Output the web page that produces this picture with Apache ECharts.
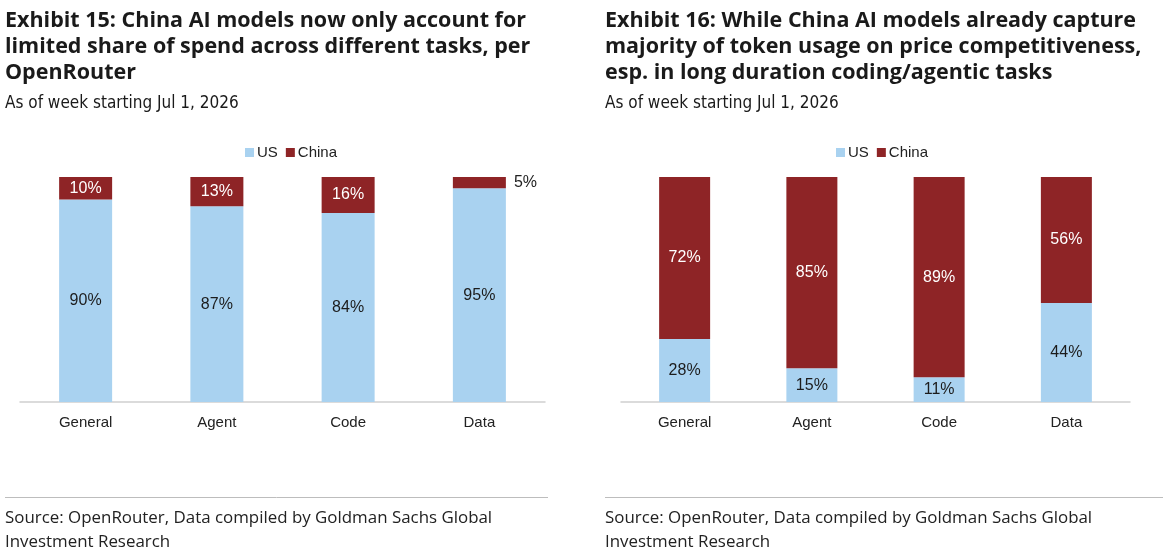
<!DOCTYPE html>
<html>
<head>
<meta charset="utf-8">
<script src="https://cdn.jsdelivr.net/npm/echarts@6/dist/echarts.min.js"></script>
<style>
    html, body { margin: 0; padding: 0; background: #fff; }
    #main { width: 1174px; height: 560px; }
</style>
</head>
<body>
<div id="main"></div>
<script>
// data read from the two exhibits
var categories = ['General', 'Agent', 'Code', 'Data'];
var seriesNames = ['US', 'China'];
var spendUS = [90, 87, 84, 95];
var spendChina = [10, 13, 16, 5];
var tokenUS = [28, 15, 11, 44];
var tokenChina = [72, 85, 89, 56];

var colorUS = '#A9D2F0';
var colorChina = '#8E2426';
var axisFont = 'Liberation Sans, Arial, sans-serif';
var titleFont = '"Open Sans", Lato, sans-serif';
var subFont = '"DejaVu Sans Condensed", sans-serif';

// small segments get their label pushed outside the bar
function chinaData(arr) {
    return arr.map(function (v) {
        if (v < 8) {
            return {value: v, label: {position: 'right', color: '#222', distance: 8}};
        }
        return v;
    });
}

function makeSeries(idx, us, china, barWidth) {
    return [{
        name: seriesNames[0],
        type: 'bar',
        stack: 's' + idx,
        xAxisIndex: idx,
        yAxisIndex: idx,
        barWidth: barWidth,
        itemStyle: {color: colorUS},
        label: {show: true, position: 'inside', formatter: '{c}%', color: '#1c1c1c', fontSize: 16, fontFamily: axisFont},
        data: us
    }, {
        name: seriesNames[1],
        type: 'bar',
        stack: 's' + idx,
        xAxisIndex: idx,
        yAxisIndex: idx,
        barWidth: barWidth,
        itemStyle: {color: colorChina},
        label: {show: true, position: 'inside', formatter: '{c}%', color: '#fff', fontSize: 16, fontFamily: axisFont},
        data: chinaData(china)
    }];
}

function xAxisFor(idx) {
    return {
        type: 'category',
        gridIndex: idx,
        data: categories,
        axisTick: {show: false},
        axisLine: {lineStyle: {color: '#cfcfcf', width: 1.5}},
        axisLabel: {color: '#222', fontSize: 15, fontFamily: axisFont, margin: 13}
    };
}

function yAxisFor(idx) {
    return {
        type: 'value',
        gridIndex: idx,
        min: 0,
        max: 100,
        show: false,
        splitLine: {show: false}
    };
}

var titleStyle = {fontFamily: titleFont, fontWeight: 'bold', fontSize: 21.5, lineHeight: 26, color: '#1a1a1a'};
var subStyle = {fontFamily: subFont, fontWeight: 'normal', fontSize: 17, color: '#1a1a1a'};
var srcStyle = {fontFamily: titleFont, fontWeight: 'normal', fontSize: 16.9, lineHeight: 24, color: '#222'};

var myChart = echarts.init(document.getElementById('main'));
var option = {
    animation: false,
    backgroundColor: '#fff',
    color: [colorUS, colorChina],
    title: [{
        text: 'Exhibit 15: China AI models now only account for\nlimited share of spend across different tasks, per\nOpenRouter',
        left: 5, top: 8, padding: 0, textStyle: titleStyle
    }, {
        text: 'As of week starting Jul 1, 2026',
        left: 5, top: 95, padding: 0, textStyle: subStyle
    }, {
        text: 'Exhibit 16: While China AI models already capture\nmajority of token usage on price competitiveness,\nesp. in long duration coding/agentic tasks',
        left: 605, top: 8, padding: 0, textStyle: titleStyle
    }, {
        text: 'As of week starting Jul 1, 2026',
        left: 605, top: 95, padding: 0, textStyle: subStyle
    }, {
        text: 'Source: OpenRouter, Data compiled by Goldman Sachs Global\nInvestment Research',
        left: 5, top: 506, padding: 0, textStyle: srcStyle
    }, {
        text: 'Source: OpenRouter, Data compiled by Goldman Sachs Global\nInvestment Research',
        left: 605, top: 506, padding: 0, textStyle: srcStyle
    }],
    legend: [{
        data: seriesNames,
        left: 240, top: 140,
        itemWidth: 9, itemHeight: 9, itemGap: 8,
        icon: 'rect',
        textStyle: {fontFamily: axisFont, fontSize: 15, color: '#222', padding: [0, 0, 0, -2]}
    }, {
        data: seriesNames,
        left: 831, top: 140,
        itemWidth: 9, itemHeight: 9, itemGap: 8,
        icon: 'rect',
        textStyle: {fontFamily: axisFont, fontSize: 15, color: '#222', padding: [0, 0, 0, -2]}
    }],
    grid: [
        {left: 20, width: 525, top: 177, bottom: 158},
        {left: 621, width: 509, top: 177, bottom: 158}
    ],
    xAxis: [xAxisFor(0), xAxisFor(1)],
    yAxis: [yAxisFor(0), yAxisFor(1)],
    series: makeSeries(0, spendUS, spendChina, 53).concat(makeSeries(1, tokenUS, tokenChina, 51)),
    graphic: [{
        type: 'line', shape: {x1: 5, y1: 497.5, x2: 548, y2: 497.5},
        style: {stroke: '#bdbdbd', lineWidth: 1}
    }, {
        type: 'line', shape: {x1: 605, y1: 497.5, x2: 1163, y2: 497.5},
        style: {stroke: '#bdbdbd', lineWidth: 1}
    }]
};
myChart.setOption(option);
</script>
</body>
</html>
